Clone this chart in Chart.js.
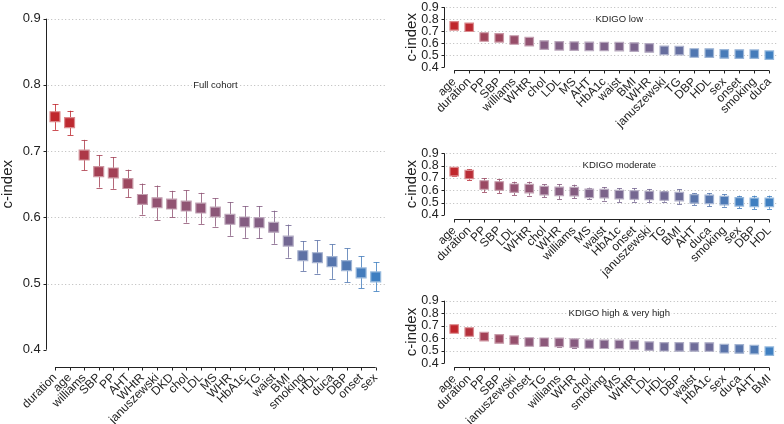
<!DOCTYPE html>
<html>
<head>
<meta charset="utf-8">
<script src="https://cdn.jsdelivr.net/npm/chart.js@4.4.1/dist/chart.umd.min.js"></script>
<style>
  body { margin: 0; background: #fff; width: 784px; height: 424px; position: relative; overflow: hidden; }
  .panel { position: absolute; }
</style>
</head>
<body>
<div class="panel" style="left:0;top:0;width:400px;height:424px"><canvas id="full"></canvas></div>
<div class="panel" style="left:400px;top:0;width:384px;height:145px"><canvas id="low"></canvas></div>
<div class="panel" style="left:400px;top:145px;width:384px;height:145px"><canvas id="moderate"></canvas></div>
<div class="panel" style="left:400px;top:290px;width:384px;height:134px"><canvas id="high"></canvas></div>
<script>
// y axis ticks shared by all panels
const yTicks = [0.4, 0.5, 0.6, 0.7, 0.8, 0.9];

// Full cohort
const fullLabels = ['duration', 'age', 'williams', 'SBP', 'PP', 'AHT', 'WHtR', 'januszewski', 'DKD', 'chol', 'LDL', 'MS',
  'WHR', 'HbA1c', 'TG', 'waist', 'BMI', 'smoking', 'HDL', 'duca', 'DBP', 'onset', 'sex'];
const fullEst = [0.752, 0.743, 0.694, 0.669, 0.667, 0.651, 0.627, 0.622, 0.620, 0.617, 0.614, 0.608,
  0.597, 0.593, 0.592, 0.585, 0.564, 0.542, 0.539, 0.533, 0.527, 0.516, 0.510];
const fullLo = [0.732, 0.724, 0.671, 0.645, 0.643, 0.630, 0.604, 0.596, 0.600, 0.592, 0.590, 0.586,
  0.572, 0.569, 0.568, 0.560, 0.539, 0.519, 0.515, 0.507, 0.502, 0.493, 0.488];
const fullHi = [0.771, 0.761, 0.717, 0.694, 0.691, 0.672, 0.651, 0.648, 0.640, 0.641, 0.637, 0.629,
  0.623, 0.617, 0.617, 0.610, 0.589, 0.564, 0.565, 0.559, 0.553, 0.541, 0.532];

// KDIGO low
const lowLabels = ['age', 'duration', 'PP', 'SBP', 'williams', 'WHtR', 'chol', 'LDL', 'MS', 'AHT', 'HbA1c',
  'waist', 'BMI', 'WHR', 'januszewski', 'TG', 'DBP', 'HDL', 'sex', 'onset', 'smoking', 'duca'];
const lowEst = [0.745, 0.733, 0.652, 0.645, 0.627, 0.613, 0.585, 0.579, 0.576, 0.574, 0.573,
  0.572, 0.568, 0.561, 0.541, 0.539, 0.519, 0.518, 0.511, 0.510, 0.509, 0.501];
const lowLo = [0.733, 0.721, 0.640, 0.633, 0.615, 0.601, 0.573, 0.567, 0.564, 0.562, 0.561,
  0.560, 0.556, 0.549, 0.529, 0.527, 0.507, 0.506, 0.499, 0.498, 0.497, 0.489];
const lowHi = [0.757, 0.745, 0.664, 0.657, 0.639, 0.625, 0.597, 0.591, 0.588, 0.586, 0.585,
  0.584, 0.580, 0.573, 0.553, 0.551, 0.531, 0.530, 0.523, 0.522, 0.521, 0.513];

// KDIGO moderate
const modLabels = ['age', 'duration', 'PP', 'SBP', 'LDL', 'WHtR', 'chol', 'WHR', 'williams', 'MS', 'waist',
  'HbA1c', 'onset', 'januszewski', 'TG', 'BMI', 'AHT', 'duca', 'smoking', 'sex', 'DBP', 'HDL'];
const modEst = [0.751, 0.728, 0.643, 0.635, 0.617, 0.614, 0.597, 0.592, 0.589, 0.575, 0.573,
  0.565, 0.562, 0.558, 0.554, 0.549, 0.530, 0.526, 0.517, 0.507, 0.503, 0.503];
const modLo = [0.720, 0.685, 0.586, 0.577, 0.562, 0.558, 0.544, 0.528, 0.535, 0.530, 0.517,
  0.505, 0.508, 0.503, 0.508, 0.488, 0.482, 0.470, 0.468, 0.456, 0.449, 0.450];
const modHi = [0.782, 0.771, 0.697, 0.689, 0.670, 0.670, 0.649, 0.649, 0.646, 0.622, 0.627,
  0.617, 0.617, 0.611, 0.598, 0.608, 0.576, 0.577, 0.568, 0.557, 0.557, 0.557];

// KDIGO high & very high
const highLabels = ['age', 'duration', 'PP', 'SBP', 'januszewski', 'onset', 'TG', 'williams', 'WHR', 'chol', 'smoking',
  'MS', 'WHtR', 'LDL', 'HDL', 'DBP', 'waist', 'HbA1c', 'sex', 'duca', 'AHT', 'BMI'];
const highEst = [0.674, 0.650, 0.613, 0.595, 0.585, 0.570, 0.568, 0.567, 0.561, 0.554, 0.552,
  0.551, 0.546, 0.537, 0.532, 0.531, 0.531, 0.530, 0.517, 0.515, 0.509, 0.497];
const highLo = [0.652, 0.628, 0.588, 0.570, 0.560, 0.545, 0.542, 0.532, 0.522, 0.528, 0.530,
  0.531, 0.522, 0.512, 0.507, 0.506, 0.508, 0.505, 0.497, 0.490, 0.497, 0.474];
const highHi = [0.696, 0.672, 0.638, 0.620, 0.610, 0.594, 0.594, 0.602, 0.598, 0.580, 0.574,
  0.571, 0.570, 0.562, 0.557, 0.556, 0.554, 0.555, 0.537, 0.540, 0.521, 0.520];

Chart.defaults.font.family = '"Liberation Sans", Arial, Helvetica, sans-serif';
Chart.defaults.color = '#222';

// blue -> mauve -> red, by c-index within each panel
const stops = [
  [0, [62, 127, 193]],
  [0.2, [112, 106, 150]],
  [0.4, [140, 88, 122]],
  [0.7, [168, 60, 78]],
  [1, [192, 38, 44]]
];
function shade(t) {
  for (let i = 1; i < stops.length; i++) {
    if (t <= stops[i][0]) {
      const [t0, c0] = stops[i - 1], [t1, c1] = stops[i];
      const f = (t - t0) / (t1 - t0);
      return c0.map((c, k) => Math.round(c + (c1[k] - c) * f));
    }
  }
  return stops[stops.length - 1][1];
}
const rgba = (c, a) => `rgba(${c[0]},${c[1]},${c[2]},${a})`;

// axes, grid, error bars and panel label
const decor = {
  id: 'decor',
  beforeDatasetsDraw(chart, args, opts) {
    const { ctx, chartArea: a, scales: { x, y } } = chart;
    const ax = a.left - opts.axisGap;
    const n = chart.data.labels.length;
    const line = (x1, y1, x2, y2) => { ctx.beginPath(); ctx.moveTo(x1, y1); ctx.lineTo(x2, y2); ctx.stroke(); };
    ctx.save();

    // dotted grid
    ctx.strokeStyle = '#b8b8b8';
    ctx.lineWidth = 1;
    ctx.setLineDash([1, 2.5]);
    yTicks.forEach(v => {
      if (v === 0.4) return;
      const py = Math.round(y.getPixelForValue(v)) + 0.5;
      line(ax + 2, py, a.right + opts.gridExtra, py);
    });
    ctx.setLineDash([]);

    // panel label
    const lx = x.getPixelForValue(11), ly = y.getPixelForValue(0.8);
    ctx.font = '9.5px "Liberation Sans", Arial, sans-serif';
    const tw = ctx.measureText(opts.title).width;
    ctx.fillStyle = '#fff';
    ctx.fillRect(lx - tw / 2 - 1, ly - 5, tw + 2, 10);
    ctx.fillStyle = '#222';
    ctx.textAlign = 'center';
    ctx.textBaseline = 'middle';
    ctx.fillText(opts.title, lx, ly);

    // axis lines
    ctx.strokeStyle = '#222';
    ctx.lineWidth = 1;
    const axp = Math.round(ax) + 0.5;
    line(axp, y.getPixelForValue(0.9), axp, y.getPixelForValue(0.4));
    yTicks.forEach(v => {
      const py = Math.round(y.getPixelForValue(v)) + 0.5;
      line(axp - 3, py, axp, py);
    });
    const xb = Math.round(a.bottom + opts.xGap) + 0.5;
    line(x.getPixelForValue(0), xb, x.getPixelForValue(n - 1), xb);
    for (let i = 0; i < n; i++) {
      const px = Math.round(x.getPixelForValue(i)) + 0.5;
      line(px, xb, px, xb + 3);
    }

    // error bars
    const colors = chart.data.datasets[0].backgroundColor;
    for (let i = 0; i < n; i++) {
      const px = Math.round(x.getPixelForValue(i)) + 0.5;
      const pl = y.getPixelForValue(opts.lo[i]), ph = y.getPixelForValue(opts.hi[i]);
      ctx.strokeStyle = colors[i].replace(',1)', ',0.8)');
      line(px, pl, px, ph);
      line(px - opts.cap, Math.round(pl) + 0.5, px + opts.cap, Math.round(pl) + 0.5);
      line(px - opts.cap, Math.round(ph) + 0.5, px + opts.cap, Math.round(ph) + 0.5);
    }
    ctx.restore();
  }
};

function makePanel(id, labels, est, lo, hi, cfg) {
  const vmin = Math.min(...est), vmax = Math.max(...est);
  const cols = est.map(v => shade((v - vmin) / (vmax - vmin)));
  new Chart(document.getElementById(id), {
    type: 'line',
    data: {
      labels: labels,
      datasets: [{
        data: est,
        showLine: false,
        pointStyle: 'rect',
        pointRadius: cfg.r,
        pointHoverRadius: cfg.r,
        backgroundColor: cols.map(c => rgba(c, 1)),
        borderColor: cols.map(c => rgba(c.map(k => Math.round(k + (255 - k) * 0.45)), 1)),
        borderWidth: 1.2
      }]
    },
    options: {
      responsive: true,
      maintainAspectRatio: false,
      animation: false,
      events: [],
      layout: { padding: { top: cfg.top, right: cfg.right, left: 0, bottom: 0 } },
      plugins: {
        legend: { display: false },
        tooltip: { enabled: false },
        decor: { title: cfg.title, lo: lo, hi: hi, axisGap: cfg.axisGap, xGap: cfg.xGap, gridExtra: cfg.gridExtra, cap: cfg.cap }
      },
      scales: {
        x: {
          type: 'category',
          offset: true,
          grid: { display: false, drawTicks: false },
          border: { display: false },
          ticks: { autoSkip: false, minRotation: 45, maxRotation: 45, padding: cfg.xpad, font: { size: cfg.xfs }, color: '#222' },
          afterFit(s) { s.height = cfg.xh; s.paddingLeft = 0; s.paddingRight = 0; }
        },
        y: {
          min: 0.4,
          max: 0.9,
          afterBuildTicks(s) { s.ticks = yTicks.map(v => ({ value: v })); },
          grid: { display: false, drawTicks: false },
          border: { display: false },
          ticks: { autoSkip: false, padding: cfg.ypad, font: { size: cfg.yfs }, color: '#222', callback: v => v.toFixed(1) },
          title: { display: true, text: 'c-index', font: { size: 15 }, color: '#222', padding: { top: cfg.tpad, bottom: 0 } },
          afterFit(s) { s.width = cfg.yw; s.paddingTop = 0; s.paddingBottom = 0; }
        }
      }
    },
    plugins: [decor]
  });
}

makePanel('full', fullLabels, fullEst, fullLo, fullHi, {
  title: 'Full cohort', r: 7, top: 18.7, right: 17, yw: 47.7, xh: 74.3, xpad: 21, ypad: 7,
  xfs: 12, yfs: 13, tpad: -1, axisGap: 2, xGap: 17, gridExtra: 4, cap: 3
});
makePanel('low', lowLabels, lowEst, lowLo, lowHi, {
  title: 'KDIGO low', r: 6, top: 4.7, right: 2, yw: 46.7, xh: 77.7, xpad: 7.5, ypad: 8,
  xfs: 12, yfs: 12.5, tpad: 3, axisGap: 2.5, xGap: 2.7, gridExtra: 1, cap: 2.5
});
makePanel('moderate', modLabels, modEst, modLo, modHi, {
  title: 'KDIGO moderate', r: 6, top: 8.3, right: 2, yw: 46.7, xh: 75, xpad: 8.5, ypad: 8,
  xfs: 12, yfs: 12.5, tpad: 3, axisGap: 2.5, xGap: 4, gridExtra: 1, cap: 2.5
});
makePanel('high', highLabels, highEst, highLo, highHi, {
  title: 'KDIGO high & very high', r: 6, top: 10.7, right: 2, yw: 46.7, xh: 60.7, xpad: 8.5, ypad: 8,
  xfs: 12, yfs: 12.5, tpad: 3, axisGap: 2.5, xGap: 4, gridExtra: 1, cap: 2.5
});
</script>
</body>
</html>
